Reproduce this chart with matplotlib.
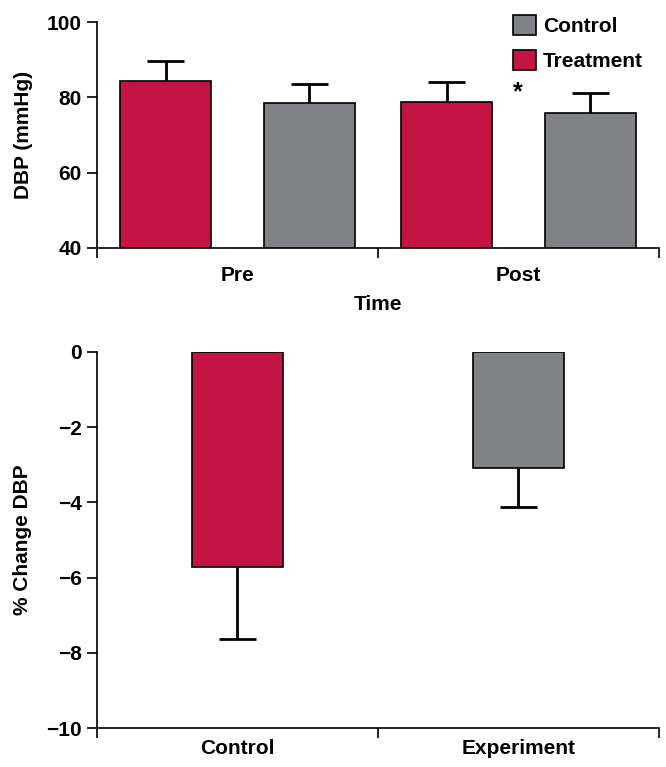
import matplotlib
matplotlib.use("Agg")
import matplotlib.pyplot as plt
from matplotlib.patches import Patch

plt.rcParams['font.family'] = ['Liberation Sans', 'DejaVu Sans']
plt.rcParams['font.weight'] = 'bold'

# Top panel data
groups = ["Pre", "Post"]
treatment_dbp = [84.4, 78.7]
treatment_err = [5.2, 5.3]
control_dbp = [78.4, 75.9]
control_err = [5.2, 5.2]

# Bottom panel data
change_cats = ["Control", "Experiment"]
change_vals = [-5.72, -3.09]
change_err = [1.91, 1.03]

RED = "#C41444"
GRAY = "#818285"
FS = 15

fig = plt.figure(figsize=(6.66, 7.67), dpi=100)
ax1 = fig.add_axes([0.1456, 0.6767, 0.9895 - 0.1456, 0.9713 - 0.6767])
ax2 = fig.add_axes([0.1456, 0.0508, 0.9895 - 0.1456, 0.5411 - 0.0508])

w = 0.324
off = 0.256
cap = 0.066
centers = [0.5, 1.5]
ELW = 2.0


def errbar(ax, x, y0, y1):
    ax.vlines(x, y0, y1, colors='black', linewidth=ELW, zorder=1)
    ax.hlines(y1, x - cap, x + cap, colors='black', linewidth=ELW, zorder=1)


for i, c in enumerate(centers):
    ax1.bar(c - off, treatment_dbp[i], width=w, color=RED, edgecolor='black', linewidth=1.2, zorder=2)
    errbar(ax1, c - off, treatment_dbp[i], treatment_dbp[i] + treatment_err[i])
    ax1.bar(c + off, control_dbp[i], width=w, color=GRAY, edgecolor='black', linewidth=1.2, zorder=2)
    errbar(ax1, c + off, control_dbp[i], control_dbp[i] + control_err[i])

ax1.set_xlim(0, 2)
ax1.set_ylim(40, 100)
ax1.set_yticks([40, 60, 80, 100])
ax1.set_xticks([0, 1, 2])
ax1.set_xticklabels([])
for c, g in zip(centers, groups):
    ax1.text(c, -0.12, g, transform=ax1.get_xaxis_transform(), ha='center', va='center',
             fontsize=FS, fontweight='bold')
ax1.text(1.0, -0.25, "Time", transform=ax1.get_xaxis_transform(), ha='center', va='center',
         fontsize=FS, fontweight='bold')
ax1.set_ylabel("DBP (mmHg)", fontsize=FS, fontweight='bold', labelpad=10)
ax1.text(1.498, 81.3, "*", ha='center', va='center', fontsize=FS + 3, fontweight='bold')

handles = [Patch(facecolor=GRAY, edgecolor='black', linewidth=1.2, label='Control'),
           Patch(facecolor=RED, edgecolor='black', linewidth=1.2, label='Treatment')]
leg = ax1.legend(handles=handles, loc='upper left', bbox_to_anchor=(0.740, 1.03),
                 frameon=False, fontsize=FS, handlelength=1.1, handleheight=1.1,
                 labelspacing=0.65, handletextpad=0.35, borderaxespad=0, borderpad=0)
for t in leg.get_texts():
    t.set_fontweight('bold')

# Bottom panel
for i, c in enumerate(centers):
    col = RED if i == 0 else GRAY
    ax2.bar(c, change_vals[i], width=w, color=col, edgecolor='black', linewidth=1.2, zorder=2)
    errbar(ax2, c, change_vals[i], change_vals[i] - change_err[i])

ax2.set_xlim(0, 2)
ax2.set_ylim(-10, 0)
ax2.set_yticks([-10, -8, -6, -4, -2, 0])
ax2.set_yticklabels(["\u221210", "\u22128", "\u22126", "\u22124", "\u22122", "0"])
ax2.set_xticks([0, 1, 2])
ax2.set_xticklabels([])
for c, g in zip(centers, change_cats):
    ax2.text(c, -0.055, g, transform=ax2.get_xaxis_transform(), ha='center', va='center',
             fontsize=FS, fontweight='bold')
ax2.set_ylabel("% Change DBP", fontsize=FS, fontweight='bold', labelpad=10)

for ax in (ax1, ax2):
    ax.spines['top'].set_visible(False)
    ax.spines['right'].set_visible(False)
    ax.spines['left'].set_linewidth(1.2)
    ax.spines['bottom'].set_linewidth(1.2)
    ax.tick_params(axis='both', direction='out', length=7, width=1.2, labelsize=FS, pad=4)
    for lab in ax.get_yticklabels():
        lab.set_fontweight('bold')

fig.savefig("out.png", dpi=100)
